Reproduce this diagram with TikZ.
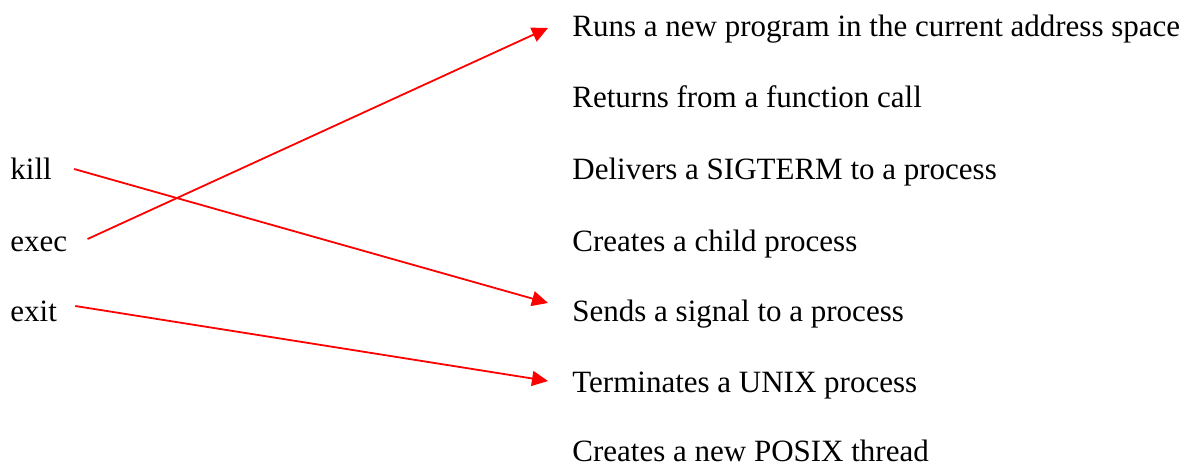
\documentclass[tikz,border=0pt]{standalone}
\usepackage{fontspec}
\setmainfont{Liberation Serif}
\usetikzlibrary{arrows.meta}

\begin{document}
\begin{tikzpicture}[x=0.5pt,y=-0.5pt,
  txt/.style={anchor=base west, inner sep=0pt, font=\fontsize{15.5}{18}\selectfont},
  link/.style={draw=red, line width=0.9pt, -{Triangle[length=8pt,width=7.5pt]}}]
\useasboundingbox (0,0) rectangle (1189,465);

% commands on the left
\node[txt] (kill) at (10,179) {kill};
\node[txt] (exec) at (10,251) {exec};
\node[txt] (exit) at (10,321) {exit};

% descriptions on the right
\node[txt] (runs) at (572,37) {Runs a new program in the current address space};
\node[txt] (returns) at (572,108) {Returns from a function call};
\node[txt] (delivers) at (572,179) {Delivers a SIGTERM to a process};
\node[txt] (child) at (572,251) {Creates a child process};
\node[txt] (sends) at (572,321) {Sends a signal to a process};
\node[txt] (terminates) at (572,392) {Terminates a UNIX process};
\node[txt] (thread) at (572,461) {Creates a new POSIX thread};

\draw[link] ([shift={(22,-10)}]kill.base east) -- ([shift={(-24,-18)}]sends.base west);
\draw[link] ([shift={(20,-12)}]exec.base east) -- ([shift={(-24,-9)}]runs.base west);
\draw[link] ([shift={(18,-15)}]exit.base east) -- ([shift={(-24,-11)}]terminates.base west);
\end{tikzpicture}
\end{document}
